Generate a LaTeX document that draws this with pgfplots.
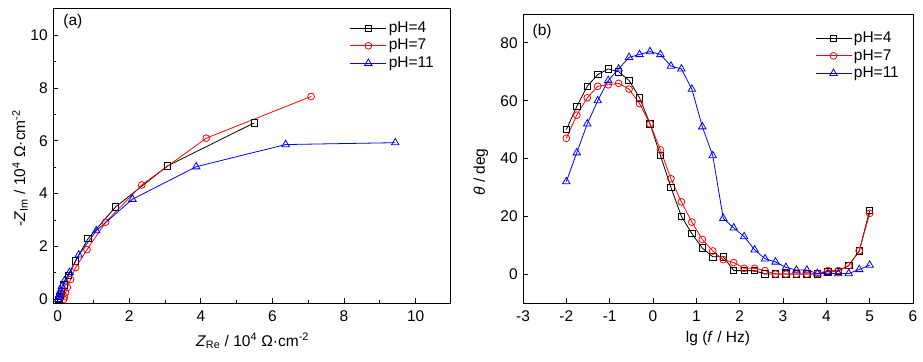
\documentclass[border=0pt]{standalone}
\usepackage{fontspec}
\setmainfont{Liberation Sans}
\usepackage{pgfplots}
\pgfplotsset{compat=1.18}
\definecolor{myred}{RGB}{255,0,0}
\definecolor{myblue}{RGB}{0,0,255}
\begin{document}
\fontsize{15.5bp}{18bp}\selectfont
\begin{tikzpicture}
\useasboundingbox (0bp,0bp) rectangle (923bp,362bp);
\pgfplotsset{
  panel/.style={
    scale only axis, anchor=south west,
    axis line style={black, line width=0.9bp},
    tick align=inside, xtick pos=bottom, ytick pos=left,
    tick style={black, line width=0.8bp},
    major tick length=5bp, minor tick length=3bp,
    /pgf/number format/assume math mode=true,
    ticklabel style={font=\fontsize{15.5bp}{18bp}\selectfont},
    xticklabel style={yshift=-2bp},
    label style={font=\fontsize{15.5bp}{18bp}\selectfont},
    legend cell align=left,
    legend style={draw=none, fill=none, anchor=north west,
      font=\fontsize{15.5bp}{18bp}\selectfont, row sep=0.5bp,
      inner sep=0pt, outer sep=0pt},
    legend image code/.code={\draw[mark repeat=2,mark phase=2,##1] plot coordinates {(0bp,0bp) (18bp,0bp) (36bp,0bp)};},
  },
  s4/.style={black, line width=0.8bp, mark=square, mark size=3.2bp, mark options={solid, fill=white}},
  s7/.style={myred, line width=0.8bp, mark=o, mark size=3.4bp, mark options={solid, fill=white}},
  s11/.style={myblue, line width=0.8bp, mark=triangle, mark size=4.3bp, mark options={solid, fill=white}},
}
\begin{axis}[panel, at={(53bp,59bp)}, width=397bp, height=295bp,
  xmin=-0.13, xmax=10.96, ymin=-0.14, ymax=11.03,
  xtick={0,2,...,10}, ytick={0,2,...,10},
  minor x tick num=1, minor y tick num=1,
  xlabel={\textit{Z}\textsubscript{Re} / 10\textsuperscript{4} Ω·cm\textsuperscript{-2}},
  ylabel={-\textit{Z}\textsubscript{Im} / 10\textsuperscript{4} Ω·cm\textsuperscript{-2}},
  xlabel style={at={(axis description cs:0.5025,-0.146)}, anchor=base},
  ylabel style={at={(axis description cs:-0.083,0.457)}, anchor=center, rotate=0},
  legend style={at={(0.748,0.96)}},
  clip=false]
\addplot[s4] coordinates {(0.03,0) (0.06,0.12) (0.1,0.3) (0.17,0.55) (0.3,0.9) (0.5,1.45) (0.85,2.3) (1.62,3.5) (3.07,5.05) (5.49,6.68)};
\addlegendentry{pH=4}
\addplot[s7] coordinates {(0.17,0) (0.19,0.1) (0.22,0.25) (0.27,0.45) (0.36,0.75) (0.50,1.2) (0.82,1.88) (1.34,2.92) (2.35,4.33) (4.15,6.1) (7.08,7.68)};
\addlegendentry{pH=7}
\addplot[s11] coordinates {(0.02,0) (0.03,0.08) (0.05,0.18) (0.08,0.32) (0.12,0.5) (0.19,0.7) (0.33,1.02) (0.59,1.68) (1.08,2.6) (2.09,3.79) (3.87,5.02) (6.37,5.86) (9.43,5.93)};
\addlegendentry{pH=11}
\node[anchor=center] at (axis description cs:0.05,0.953) {(a)};
\end{axis}
\begin{axis}[panel, at={(523bp,59bp)}, width=390bp, height=289bp,
  xmin=-3, xmax=6, ymin=-10, ymax=90,
  xtick={-3,-2,...,6}, ytick={0,20,...,80},
  xlabel={lg (\textit{f} / Hz)},
  ylabel={\textit{θ} / deg},
  xlabel style={at={(axis description cs:0.5,-0.138)}, anchor=base},
  ylabel style={at={(axis description cs:-0.108,0.453)}, anchor=center, rotate=0},
  legend style={at={(0.749,0.945)}},
  clip=false]
\addplot[s4] coordinates {(-2,50) (-1.759,58) (-1.517,65) (-1.276,69) (-1.034,71) (-0.793,70) (-0.552,67) (-0.310,61) (-0.069,52) (0.172,41) (0.414,30) (0.655,20) (0.897,14) (1.138,9) (1.379,6) (1.621,6) (1.862,1.2) (2.103,1.2) (2.345,1.2) (2.586,0) (2.828,0) (3.069,0) (3.310,0) (3.552,0) (3.793,0) (4.034,1) (4.276,1) (4.517,3) (4.759,8) (5.0,22)};
\addlegendentry{pH=4}
\addplot[s7] coordinates {(-2,47) (-1.759,55) (-1.517,61) (-1.276,65) (-1.034,65.5) (-0.793,66) (-0.552,64) (-0.310,59) (-0.069,52) (0.172,43) (0.414,33) (0.655,25) (0.897,18) (1.138,12) (1.379,8) (1.621,5) (1.862,4) (2.103,2) (2.345,2) (2.586,1.2) (2.828,0) (3.069,0) (3.310,0) (3.552,0) (3.793,0.2) (4.034,1.2) (4.276,1.2) (4.517,2.9) (4.759,8.1) (5.0,21)};
\addlegendentry{pH=7}
\addplot[s11] coordinates {(-2,32) (-1.759,42) (-1.517,52) (-1.276,60) (-1.034,67) (-0.793,71) (-0.552,75) (-0.310,76) (-0.069,77) (0.172,76) (0.414,72) (0.655,71) (0.897,64) (1.138,51) (1.379,41) (1.621,19.3) (1.862,16) (2.103,13) (2.345,8.4) (2.586,5.3) (2.828,4.2) (3.069,2.3) (3.310,1.4) (3.552,1.4) (3.793,0.2) (4.034,0.3) (4.276,0.2) (4.517,0.2) (4.759,1.6) (5.0,3.1)};
\addlegendentry{pH=11}
\node[anchor=center] at (axis description cs:0.049,0.94) {(b)};
\end{axis}
\end{tikzpicture}
\end{document}
